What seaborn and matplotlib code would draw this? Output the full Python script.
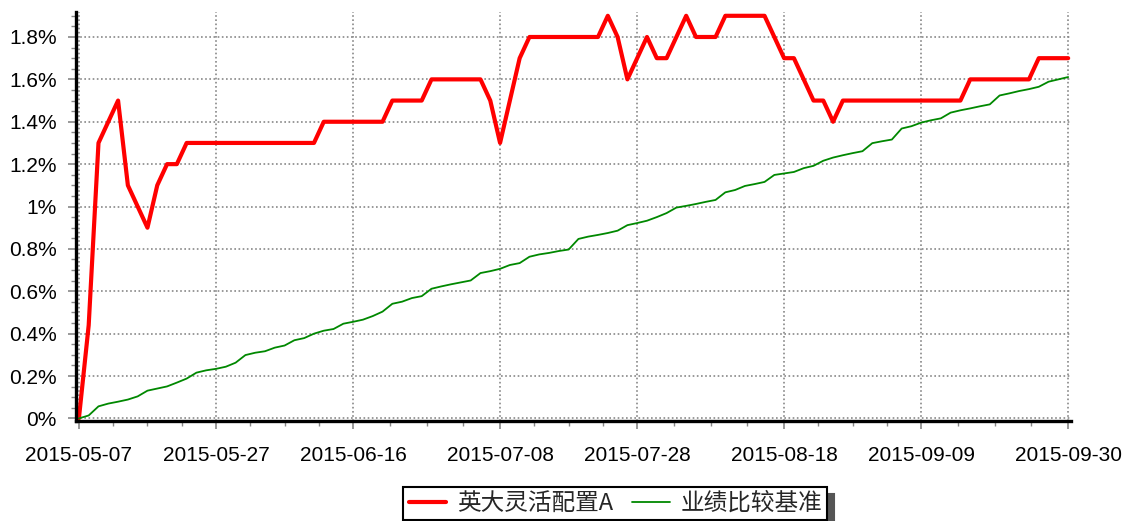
import numpy as np
import pandas as pd
import matplotlib
matplotlib.use("Agg")
import matplotlib.pyplot as plt
from matplotlib.ticker import FixedLocator, FuncFormatter, MultipleLocator
import seaborn as sns

# 交易日 (2015-05-07 ~ 2015-09-30), 去掉节假日
holidays = ["2015-06-22", "2015-09-03", "2015-09-04"]
dates = [d for d in pd.bdate_range("2015-05-07", "2015-09-30") if d.strftime("%Y-%m-%d") not in holidays]
date_labels = [d.strftime("%Y-%m-%d") for d in dates]

fund_name = "英大灵活配置A"
bench_name = "业绩比较基准"

# 收益率 (%)
fund_ret = ([0, 0.44, 1.3, 1.4, 1.5, 1.1, 1.0, 0.9, 1.1, 1.2, 1.2]
            + [1.3] * 14 + [1.4] * 7 + [1.5] * 4 + [1.6] * 6
            + [1.5, 1.3, 1.5, 1.7] + [1.8] * 8
            + [1.9, 1.8, 1.6, 1.7, 1.8, 1.7, 1.7, 1.8, 1.9, 1.8, 1.8, 1.8]
            + [1.9] * 5 + [1.8, 1.7, 1.7, 1.6, 1.5, 1.5, 1.4]
            + [1.5] * 13 + [1.6] * 7 + [1.7] * 4)

bench_ret = [0.0, 0.014, 0.057, 0.070, 0.079, 0.089, 0.104, 0.131, 0.141, 0.151,
             0.169, 0.188, 0.216, 0.227, 0.234, 0.244, 0.263, 0.299, 0.310, 0.317,
             0.334, 0.344, 0.369, 0.379, 0.400, 0.414, 0.422, 0.447, 0.456, 0.466,
             0.483, 0.504, 0.541, 0.551, 0.568, 0.577, 0.612, 0.623, 0.633, 0.642,
             0.651, 0.686, 0.695, 0.706, 0.724, 0.733, 0.763, 0.774, 0.781, 0.790,
             0.797, 0.847, 0.858, 0.866, 0.875, 0.886, 0.912, 0.922, 0.933, 0.950,
             0.969, 0.995, 1.003, 1.012, 1.022, 1.031, 1.067, 1.078, 1.097, 1.106,
             1.116, 1.149, 1.156, 1.163, 1.181, 1.192, 1.216, 1.231, 1.242, 1.252,
             1.261, 1.299, 1.308, 1.316, 1.368, 1.379, 1.396, 1.407, 1.416, 1.443,
             1.454, 1.463, 1.473, 1.482, 1.524, 1.534, 1.545, 1.554, 1.565, 1.589,
             1.600, 1.611]

tick_dates = ["2015-05-07", "2015-05-27", "2015-06-16", "2015-07-08",
              "2015-07-28", "2015-08-18", "2015-09-09", "2015-09-30"]

sns.set_theme(style="white")
plt.rcParams['font.family'] = ['Liberation Sans', 'Noto Sans CJK SC', 'DejaVu Sans']

df = pd.DataFrame({"idx": np.arange(len(dates)), "fund": fund_ret, "bench": bench_ret})

fig = plt.figure(figsize=(11.27, 5.21), dpi=100)
ax = fig.add_axes([0.0674, 0.192, 0.883, 0.785])

sns.lineplot(data=df, x="idx", y="fund", ax=ax, color="#ff0000", linewidth=3.0, label=fund_name)
sns.lineplot(data=df, x="idx", y="bench", ax=ax, color="#008800", linewidth=1.3, label=bench_name)

tick_pos = [date_labels.index(t) for t in tick_dates]
minor_pos = []
for a, b in zip(tick_pos[:-1], tick_pos[1:]):
    minor_pos += [a + (b - a) * k / 4 for k in (1, 2, 3)]

ax.set_xlim(-0.3, 101.3)
ax.set_ylim(-0.012, 1.918)
ax.xaxis.set_major_locator(FixedLocator(tick_pos))
ax.xaxis.set_minor_locator(FixedLocator(minor_pos))
ax.set_xticklabels(tick_dates)
ax.yaxis.set_major_locator(FixedLocator([0, 0.2, 0.4, 0.6, 0.8, 1.0, 1.2, 1.4, 1.6, 1.8]))
ax.yaxis.set_minor_locator(MultipleLocator(0.05))
ax.yaxis.set_major_formatter(FuncFormatter(lambda v, p: f"{v:g}%"))
ax.set_xlabel("")
ax.set_ylabel("")

ax.grid(True, which="major", color="#888888", linestyle=(0, (1, 1.5)), linewidth=1.2)
for s in ["top", "right"]:
    ax.spines[s].set_visible(False)
for s in ["left", "bottom"]:
    ax.spines[s].set_color("black")
    ax.spines[s].set_linewidth(2.4)

ax.tick_params(axis="both", which="major", direction="out", length=6, width=1.2,
               color="#888888", labelsize=15, labelcolor="black", left=True, bottom=True)
ax.tick_params(axis="both", which="minor", direction="out", length=3.5, width=1.0,
               color="#888888", left=True, bottom=True)
ax.tick_params(axis="x", pad=12)
ax.tick_params(axis="y", pad=8)

leg = ax.legend(loc="center", bbox_to_anchor=(0.546, 0.034), bbox_transform=fig.transFigure,
                ncol=2, frameon=True, fancybox=False, handlelength=1.6,
                handletextpad=0.45, columnspacing=0.8, borderpad=0.22,
                prop={'family': ['Noto Sans CJK SC', 'DejaVu Sans'], 'size': 17},
                shadow={'ox': 5, 'oy': -5, 'color': '#555555', 'alpha': 1})
leg.get_frame().set_edgecolor("black")
leg.get_frame().set_linewidth(1.5)
leg.get_frame().set_alpha(1)

fig.savefig("out.png", dpi=100)
